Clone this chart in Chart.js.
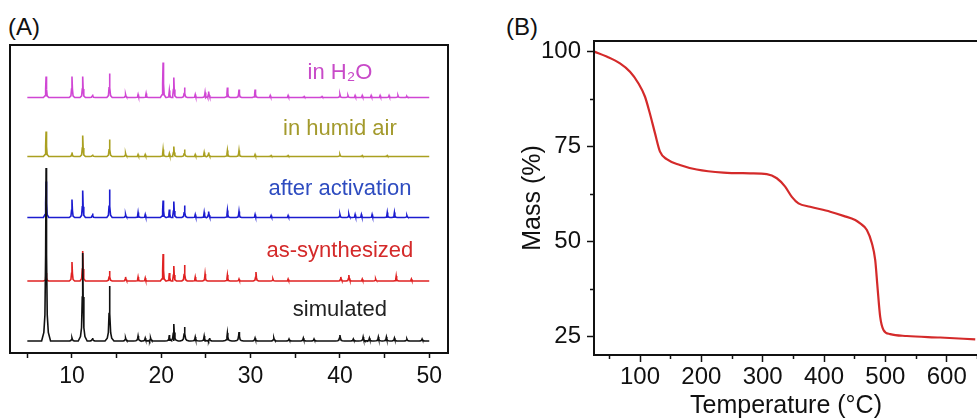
<!DOCTYPE html>
<html>
<head>
<meta charset="utf-8">
<title>PXRD and TGA</title>
<script src="https://cdn.jsdelivr.net/npm/chart.js@4.4.1/dist/chart.umd.min.js"></script>
<style>
  html, body { margin: 0; padding: 0; background: #fff; overflow: hidden; width: 977px; height: 419px; }
  .wrap { position: absolute; top: 0; }
  .panel-label { position: absolute; font: 24px "Liberation Sans", Arial, sans-serif; color: #111; line-height: 1; }
</style>
</head>
<body>
<div class="panel-label" style="left:8px; top:15px">(A)</div>
<div class="panel-label" style="left:506px; top:15px">(B)</div>
<div class="wrap" style="left:0"><canvas id="xrdChart" width="470" height="419"></canvas></div>
<div class="wrap" style="left:470px"><canvas id="tgaChart" width="530" height="419"></canvas></div>
<script>
// ---------- (A) PXRD patterns ----------
const twoThetaStart = 5;
const twoThetaEnd = 50;
const twoThetaTicks = [5, 10, 15, 20, 25, 30, 35, 40, 45, 50];
const twoThetaLabels = [10, 20, 30, 40, 50];

const patternNames = ['simulated', 'as-synthesized', 'after activation', 'in humid air', 'in H\u2082O'];
const patternOffsets = [12, 72, 135.5, 196.5, 255.5];

const simPeaks    = [7.1, 10.0, 11.2, 12.3, 14.2, 16.0, 17.4, 18.2, 18.8, 20.9, 21.4, 22.6, 23.8, 24.8, 25.4, 27.4, 28.7, 30.5, 32.6, 34.3, 35.9, 37.1, 40.0, 41.5, 42.6, 43.3, 44.3, 45.2, 46.1, 47.5, 49.2];
const simHeights  = [173, 3, 88, 3, 55, 3, 5, 3, 3, 6, 17, 14, 4, 5, 3, 8, 9, 3, 3, 2, 3, 2, 6, 2, 4, 3, 4, 4, 3, 2, 2];

const synPeaks    = [7.1, 10.0, 11.2, 14.2, 16.0, 17.4, 18.2, 20.2, 20.9, 21.4, 22.6, 23.8, 24.9, 27.4, 28.7, 30.6, 32.5, 34.2, 40.1, 41.0, 42.5, 44.0, 46.3, 48.0];
const synHeights  = [8, 19, 30, 10, 4, 4, 3, 27, 8, 15, 16, 4, 7, 6, 2, 9, 2, 2, 4, 6, 2, 2, 5, 2];

const actPeaks    = [7.1, 10.0, 11.2, 12.3, 14.2, 16.0, 17.4, 18.2, 20.2, 20.9, 21.4, 22.6, 23.8, 24.8, 25.3, 27.4, 28.7, 30.5, 32.3, 34.2, 40.0, 41.0, 41.7, 42.4, 43.6, 45.3, 46.1, 47.5];
const actHeights  = [36, 18, 27, 4, 28, 3, 5, 3, 17, 8, 16, 12, 3, 5, 6, 7, 6, 3, 2, 2, 3, 3, 3, 3, 3, 5, 5, 2];

const humPeaks    = [7.1, 10.0, 11.2, 12.3, 14.2, 16.0, 17.4, 18.2, 20.2, 20.9, 21.4, 22.6, 23.8, 24.8, 25.3, 27.4, 28.7, 30.5, 32.3, 34.2, 40.0, 42.5, 45.3];
const humHeights  = [25, 4, 21, 2, 17, 3, 2, 2, 7, 3, 10, 7, 2, 4, 4, 6, 6, 2, 1, 1, 2, 1, 1];

const waterPeaks   = [7.1, 10.0, 11.2, 12.3, 14.2, 16.0, 17.4, 18.3, 20.2, 20.9, 21.4, 22.6, 23.8, 24.9, 25.3, 27.4, 28.7, 30.5, 32.2, 34.2, 36.0, 38.0, 40.0, 40.9, 41.7, 42.5, 43.5, 44.5, 45.5, 46.5, 47.5];
const waterHeights = [21, 21, 21, 3, 24, 3, 3, 4, 35, 7, 20, 10, 3, 5, 6, 10, 8, 8, 2, 2, 1, 1, 3, 2, 2, 2, 2, 2, 2, 2, 1];

// ---------- (B) TGA curve ----------
const tempC   = [25.5, 45.6, 67.4, 83.7, 97.3, 108, 116, 124.5, 132.6, 143.5, 165, 192.5, 236, 279.4, 306.7, 323, 336.6, 347.5, 358.3, 377.3, 410, 431.7, 450.8, 458.9, 469.8, 478, 483.4, 487.1, 491.5, 496.9, 507.8, 535, 589.4, 646.5];
const massPct = [100, 98.7, 96.9, 94.7, 91.7, 88.2, 83.8, 78.5, 73.7, 71.7, 70.2, 69.0, 68.2, 68.0, 67.8, 66.7, 64.5, 61.8, 60.1, 59.2, 57.9, 56.8, 55.7, 54.8, 53.1, 49.6, 45.2, 38.2, 30.3, 26.8, 25.7, 25.2, 24.8, 24.3];
const tempTicks  = [50, 100, 150, 200, 250, 300, 350, 400, 450, 500, 550, 600, 650];
const tempLabels = [100, 200, 300, 400, 500, 600];
const massTicks  = [25, 37.5, 50, 62.5, 75, 87.5, 100];
const massLabels = [25, 50, 75, 100];

// ---------- styling ----------
const FONT = '"Liberation Sans", Arial, Helvetica, sans-serif';
Chart.defaults.font.family = FONT;
Chart.defaults.color = '#111';

const lineColors = ['#111111', '#e02222', '#1c1cd0', '#aaa020', '#d046d4'];
const textColors = ['#222222', '#d42a2a', '#2e4cc0', '#a39a2c', '#c84ac8'];
const labelLift = [31.3, 29.7, 28.5, 27.5, 24.2];   // baseline -> label centre
const labelTwoTheta = 40;

// peak profile [dx, fraction of height]
const sharpShape = [[-0.3, 0], [-0.12, 0.08], [-0.05, 0.4], [0, 1], [0.05, 0.4], [0.12, 0.08], [0.3, 0]];
const broadShape = [[-0.5, 0], [-0.25, 0.05], [-0.13, 0.15], [-0.05, 0.5], [0, 1], [0.05, 0.5], [0.13, 0.15], [0.25, 0.05], [0.5, 0]];

function buildPattern(peaks, heights, offset, shape) {
  const pts = [{ x: twoThetaStart, y: offset }];
  peaks.forEach((p, i) => {
    shape.forEach(([dx, f]) => pts.push({ x: p + dx, y: offset + f * heights[i] }));
  });
  pts.push({ x: twoThetaEnd, y: offset });
  return pts.sort((a, b) => a.x - b.x);
}

const patterns = [
  buildPattern(simPeaks, simHeights, patternOffsets[0], broadShape),
  buildPattern(synPeaks, synHeights, patternOffsets[1], sharpShape),
  buildPattern(actPeaks, actHeights, patternOffsets[2], sharpShape),
  buildPattern(humPeaks, humHeights, patternOffsets[3], sharpShape),
  buildPattern(waterPeaks, waterHeights, patternOffsets[4], sharpShape)
];

const framePlugin = {
  id: 'frame',
  afterDraw(chart) {
    const { ctx, chartArea: a } = chart;
    ctx.save();
    ctx.strokeStyle = '#111';
    ctx.lineWidth = 2;
    ctx.strokeRect(a.left, a.top, a.right - a.left, a.bottom - a.top);
    ctx.restore();
  }
};

const labelPlugin = {
  id: 'patternLabels',
  afterDatasetsDraw(chart) {
    const { ctx, scales: { x, y } } = chart;
    ctx.save();
    ctx.font = '22px ' + FONT;
    ctx.textAlign = 'center';
    ctx.textBaseline = 'middle';
    patternNames.forEach((name, i) => {
      ctx.fillStyle = textColors[i];
      ctx.fillText(name, x.getPixelForValue(labelTwoTheta), y.getPixelForValue(patternOffsets[i] + labelLift[i]));
    });
    ctx.restore();
  }
};

// --- Panel A ---
new Chart(document.getElementById('xrdChart'), {
  type: 'line',
  data: {
    datasets: patterns.map((pts, i) => ({
      label: patternNames[i],
      data: pts,
      borderColor: lineColors[i],
      borderWidth: 1.6,
      pointRadius: 0,
      tension: 0
    }))
  },
  options: {
    responsive: false,
    animation: false,
    layout: { padding: { left: 10, top: 45, right: 22, bottom: 0 } },
    plugins: { legend: { display: false }, tooltip: { enabled: false } },
    scales: {
      x: {
        type: 'linear',
        min: 3.06,
        max: 52.1,
        afterBuildTicks: s => { s.ticks = twoThetaTicks.map(v => ({ value: v })); },
        afterFit: s => { s.height = 66; },
        border: { display: false },
        grid: { drawOnChartArea: false, tickLength: 5, tickColor: '#111', tickWidth: 1.5 },
        ticks: {
          padding: 5,
          color: '#111',
          font: { size: 23 },
          maxRotation: 0,
          autoSkip: false,
          callback: v => twoThetaLabels.includes(v) ? String(v) : ''
        }
      },
      y: { display: false, min: 0, max: 308 }
    }
  },
  plugins: [framePlugin, labelPlugin]
});

// --- Panel B ---
new Chart(document.getElementById('tgaChart'), {
  type: 'line',
  data: {
    labels: tempC,
    datasets: [{
      label: 'Mass (%)',
      data: tempC.map((t, i) => ({ x: t, y: massPct[i] })),
      borderColor: '#d42a2a',
      borderWidth: 2.2,
      pointRadius: 0,
      cubicInterpolationMode: 'monotone'
    }]
  },
  options: {
    responsive: false,
    animation: false,
    layout: { padding: { left: 0, top: 41, right: 22, bottom: 0 } },
    plugins: { legend: { display: false }, tooltip: { enabled: false } },
    scales: {
      x: {
        type: 'linear',
        min: 25,
        max: 651,
        afterBuildTicks: s => { s.ticks = tempTicks.map(v => ({ value: v })); },
        afterFit: s => { s.height = 64; },
        border: { display: false },
        grid: {
          drawOnChartArea: false, tickLength: 7, tickColor: '#111', tickWidth: 1.5,
          tickBorderDash: c => (c.tick && tempLabels.includes(c.tick.value)) ? [] : [4, 100]
        },
        ticks: {
          padding: 1,
          font: { size: 24 },
          maxRotation: 0,
          autoSkip: false,
          callback: v => tempLabels.includes(v) ? String(v) : ''
        },
        title: { display: true, text: 'Temperature (\u00B0C)', font: { size: 25, lineHeight: 1.04 }, padding: 0 }
      },
      y: {
        min: 20.2,
        max: 102.8,
        afterBuildTicks: s => { s.ticks = massTicks.map(v => ({ value: v })); },
        afterFit: s => { s.width = 124; },
        border: { display: false },
        grid: {
          drawOnChartArea: false, tickLength: 7, tickColor: '#111', tickWidth: 1.5,
          tickBorderDash: c => (c.tick && massLabels.includes(c.tick.value)) ? [] : [0, 3, 4, 100]
        },
        ticks: {
          padding: 6,
          font: { size: 24 },
          autoSkip: false,
          callback: v => massLabels.includes(v) ? String(v) : ''
        },
        title: { display: true, text: 'Mass (%)', font: { size: 25 }, padding: { top: 48, bottom: 0 } }
      }
    }
  },
  plugins: [framePlugin]
});
</script>
</body>
</html>
